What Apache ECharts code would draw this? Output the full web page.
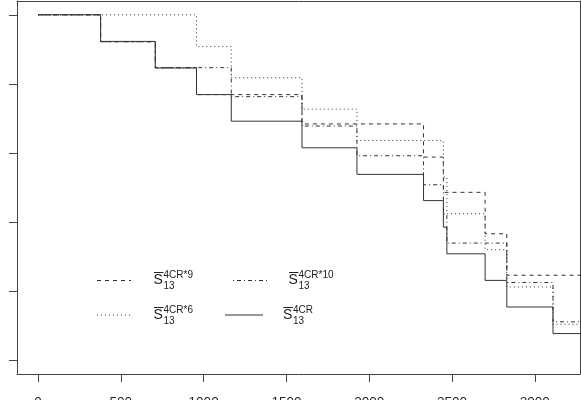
<!DOCTYPE html>
<html>
<head>
<meta charset="utf-8">
<script src="https://cdn.jsdelivr.net/npm/echarts@6/dist/echarts.min.js"></script>
<style>
  html, body { margin: 0; padding: 0; background: #fff; }
  #main { width: 581px; height: 400px; }
</style>
</head>
<body>
<div id="main"></div>
<script>
// step curves: time of each step and the value after it
const times4CR9 = [0, 378, 708, 957, 1594, 2328, 2448, 2700, 2831, 3300];
const surv4CR9 = [1, 0.922, 0.847, 0.769, 0.684, 0.588, 0.486, 0.366, 0.246, 0.246];

const times4CR10 = [0, 378, 708, 1167, 1594, 1926, 2328, 2448, 2469, 2831, 3110, 3300];
const surv4CR10 = [1, 0.922, 0.847, 0.763, 0.678, 0.592, 0.508, 0.423, 0.339, 0.225, 0.111, 0.111];

const times4CR6 = [0, 957, 1167, 1594, 1926, 2448, 2469, 2700, 2831, 3110, 3300];
const surv4CR6 = [1, 0.908, 0.818, 0.727, 0.636, 0.530, 0.424, 0.320, 0.212, 0.104, 0.104];

const times4CR = [0, 378, 708, 957, 1167, 1594, 1926, 2328, 2448, 2469, 2700, 2831, 3110, 3300];
const surv4CR = [1, 0.923, 0.846, 0.769, 0.692, 0.615, 0.538, 0.462, 0.385, 0.308, 0.231, 0.154, 0.077, 0.077];

const xTicks = [0, 500, 1000, 1500, 2000, 2500, 3000];
const yTicks = [0, 0.2, 0.4, 0.6, 0.8, 1.0];

const legendSup = ['4CR*9', '4CR*10', '4CR*6', '4CR'];
const legendSub = '13';

const ink = '#333';
const frame = '#444';
const dashes = {
  dashed: [4, 4],
  dotted: [1, 3],
  dotdash: [1, 3, 4, 3],
  solid: 'solid'
};

function pairs(t, s) {
  return t.map((x, i) => [x, s[i]]);
}

function stepSeries(name, t, s, dash) {
  return {
    name: name,
    type: 'line',
    step: 'end',
    symbol: 'none',
    silent: true,
    lineStyle: { color: ink, width: 1, type: dash },
    data: pairs(t, s)
  };
}

// one legend entry: line sample, then S with overline, sub 13 and superscript
function legendItem(x0, x1, y, dash, sx, yc, sup) {
  const font = '"Liberation Sans", Arial, sans-serif';
  return [
    {
      type: 'line',
      shape: { x1: x0, y1: y, x2: x1, y2: y },
      style: { stroke: ink, lineWidth: 1, lineDash: dash === 'solid' ? null : dash }
    },
    {
      type: 'text', x: sx, y: yc,
      style: { text: 'S', fontSize: 14, fontFamily: font, fill: '#222', align: 'left', verticalAlign: 'middle' }
    },
    {
      type: 'line',
      shape: { x1: sx + 0.5, y1: yc - 7.5, x2: sx + 10, y2: yc - 7.5 },
      style: { stroke: '#222', lineWidth: 1 }
    },
    {
      type: 'text', x: sx + 10, y: yc + 6.5,
      style: { text: legendSub, fontSize: 10, fontFamily: font, fill: '#222', align: 'left', verticalAlign: 'middle' }
    },
    {
      type: 'text', x: sx + 10, y: yc - 4.5,
      style: { text: sup, fontSize: 10, fontFamily: font, fill: '#222', align: 'left', verticalAlign: 'middle' }
    }
  ];
}

// bare axis used only to draw the other two sides of the box
function frameAxis(extra) {
  return Object.assign({
    type: 'value',
    axisLine: { show: true, onZero: false, lineStyle: { color: frame } },
    axisTick: { show: false },
    axisLabel: { show: false },
    splitLine: { show: false }
  }, extra);
}

let myChart = echarts.init(document.getElementById('main'));

myChart.setOption({
  animation: false,
  backgroundColor: '#fff',
  grid: { left: 17, top: 1, width: 563, height: 373, outerBoundsMode: 'none' },
  xAxis: [
    {
      type: 'value',
      position: 'bottom',
      min: -127,
      max: 3273,
      axisLine: { show: true, onZero: false, lineStyle: { color: frame } },
      splitLine: { show: false },
      axisTick: { show: true, length: 8, customValues: xTicks, lineStyle: { color: frame } },
      axisLabel: {
        customValues: xTicks, margin: 21, fontSize: 13.5, color: '#222',
        fontFamily: '"Liberation Sans", Arial, sans-serif',
        formatter: v => String(v)
      }
    },
    frameAxis({ position: 'top', min: -127, max: 3273 })
  ],
  yAxis: [
    {
      type: 'value',
      position: 'left',
      min: -0.04,
      max: 1.04,
      axisLine: { show: true, onZero: false, lineStyle: { color: frame } },
      splitLine: { show: false },
      axisTick: { show: true, length: 8, customValues: yTicks, lineStyle: { color: frame } },
      axisLabel: { show: false }
    },
    frameAxis({ position: 'right', min: -0.04, max: 1.04 })
  ],
  series: [
    stepSeries('4CR*6', times4CR6, surv4CR6, dashes.dotted),
    stepSeries('4CR*10', times4CR10, surv4CR10, dashes.dotdash),
    stepSeries('4CR*9', times4CR9, surv4CR9, dashes.dashed),
    stepSeries('4CR', times4CR, surv4CR, dashes.solid)
  ],
  graphic: [].concat(
    legendItem(97, 131, 280.5, dashes.dashed, 153.5, 280, legendSup[0]),
    legendItem(233, 269, 280.5, dashes.dotdash, 288.5, 280, legendSup[1]),
    legendItem(97, 132, 315, dashes.dotted, 153.5, 315, legendSup[2]),
    legendItem(225, 263, 315, dashes.solid, 283, 315, legendSup[3])
  )
});
</script>
</body>
</html>
